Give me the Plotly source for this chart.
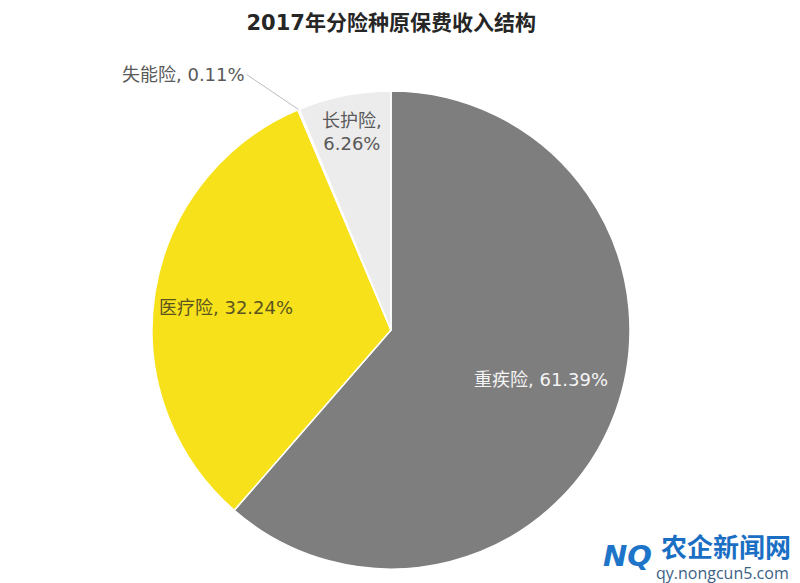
import math
import plotly.graph_objects as go

categories = ["重疾险", "医疗险", "失能险", "长护险"]
values = [61.39, 32.24, 0.11, 6.26]
colors = ["#7f7e7f", "#f7e11b", "#ececec", "#ececec"]
text_colors = ["#f4f4f4", "#5b5420", "#595959", "#595959"]
label_seps = [", ", ", ", ", ", ",<br>"]
label_radius = [0.67, 0.70, 1.0, 0.845]   # fraction of radius where text sits
label_yshift = [7, -4, 0, 0]
outside = [False, False, True, False]

FONT = "DejaVu Sans, Noto Sans CJK SC, sans-serif"

# pie geometry (pixels in an 800x583 page)
W, H = 800, 583
CX, CY, R = 391, 330, 239

fig = go.Figure(go.Pie(
    labels=categories,
    values=values,
    sort=False,
    direction="clockwise",
    rotation=0,
    marker=dict(colors=colors, line=dict(color="#ffffff", width=1.5)),
    textinfo="none",
    showlegend=False,
    domain=dict(x=[(CX - R) / W, (CX + R) / W], y=[(H - CY - R) / H, (H - CY + R) / H]),
    hoverinfo="label+value",
))

annotations = []
total = sum(values)
cum = 0.0
for name, v, col, sep, frac, ys, out in zip(categories, values, text_colors, label_seps,
                                            label_radius, label_yshift, outside):
    theta = 2 * math.pi * (cum + v / 2) / total
    cum += v
    px = CX + frac * R * math.sin(theta)
    py = CY - frac * R * math.cos(theta)
    txt = f"{name}{sep}{v:.2f}%"
    if out:
        annotations.append(dict(
            text=txt, x=px / W, y=1 - py / H, xref="paper", yref="paper",
            showarrow=True, arrowhead=0, arrowwidth=1, arrowcolor="#bdbdbd",
            ax=-52, ay=-35, xanchor="right", yanchor="middle",
            font=dict(family=FONT, size=18, color=col)))
    else:
        annotations.append(dict(
            text=txt, x=px / W, y=1 - py / H, xref="paper", yref="paper",
            showarrow=False, xanchor="center", yanchor="middle", yshift=ys,
            font=dict(family=FONT, size=18, color=col)))

annotations += [
    dict(text="<b><i>NQ</i></b>", x=627 / W, y=1 - 556 / H, xref="paper", yref="paper",
         xanchor="center", yanchor="middle", showarrow=False,
         font=dict(family="DejaVu Sans", size=29, color="#1d74c8")),
    dict(text="<b>农企新闻网</b>", x=793 / W, y=1 - 545 / H, xref="paper", yref="paper",
         xanchor="right", yanchor="middle",
         showarrow=False, font=dict(family="Noto Sans CJK SC", size=26, color="#1a6fc4")),
    dict(text="qy.nongcun5.com", x=791 / W, y=1 - 573 / H, xref="paper", yref="paper",
         xanchor="right", yanchor="middle",
         showarrow=False, font=dict(family="Open Sans", size=16, color="#3d5f86")),
]

fig.update_layout(
    width=W, height=H,
    margin=dict(l=0, r=0, t=0, b=0),
    paper_bgcolor="#ffffff",
    plot_bgcolor="#ffffff",
    title=dict(text="<b>2017年分险种原保费收入结构</b>", x=0.489, xanchor="center",
               y=0.962, yanchor="middle",
               font=dict(family=FONT, size=21, color="#262626")),
    annotations=annotations,
)

fig.write_html("out.html")
